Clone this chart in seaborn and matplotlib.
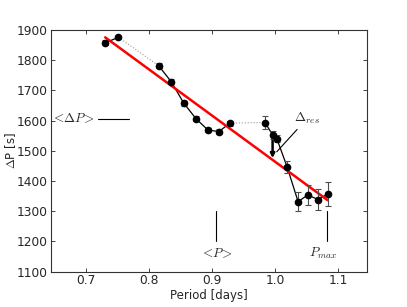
import numpy as np
import pandas as pd
import seaborn as sns
import matplotlib
matplotlib.use('Agg')
import matplotlib.pyplot as plt

# values
period = [0.731, 0.752, 0.8156, 0.8356, 0.8557, 0.875, 0.8937, 0.911, 0.9285,
          0.984, 0.996, 1.0026, 1.019, 1.0364, 1.0517, 1.068, 1.083]
delta_p = [1858, 1876, 1782, 1729, 1657, 1606, 1569, 1564, 1592,
           1594, 1553, 1541, 1447, 1332, 1354, 1339, 1357]
delta_p_err = [8, 6, 8, 8, 8, 8, 8, 8, 8,
               20, 12, 12, 19, 31, 33, 35, 40]
# which run each point belongs to (runs are joined by dotted lines)
segment = [0, 0, 1, 1, 1, 1, 1, 1, 1, 2, 2, 2, 2, 2, 2, 2, 2]

fit_period = [0.731, 1.083]
fit_dp = [1876, 1337]

mean_dp = 1607
mean_p = 0.907
p_max = 1.082
resid_top, resid_bottom = 1553, 1476

df = pd.DataFrame({'period': period, 'dp': delta_p, 'err': delta_p_err, 'seg': segment})
fit = pd.DataFrame({'period': fit_period, 'dp': fit_dp})

sns.set_style('ticks')
plt.rcParams['mathtext.fontset'] = 'cm'
plt.rcParams['font.family'] = ['DejaVu Sans']
plt.rcParams['xtick.direction'] = 'in'
plt.rcParams['ytick.direction'] = 'in'

fig, ax = plt.subplots(figsize=(4.07, 3.07), dpi=100)
fig.subplots_adjust(left=0.125, right=0.901, top=0.902, bottom=0.115)

# dotted gaps between runs
for s in range(df.seg.max()):
    a = df[df.seg == s].iloc[-1]
    b = df[df.seg == s + 1].iloc[0]
    gap = pd.DataFrame([a, b])
    sns.lineplot(data=gap, x='period', y='dp', ax=ax, color='0.6', lw=0.8,
                 linestyle=':', sort=False, estimator=None)

for s, g in df.groupby('seg'):
    sns.lineplot(data=g, x='period', y='dp', ax=ax, color='black', lw=0.9,
                 sort=False, estimator=None)

ax.errorbar(df.period, df.dp, yerr=df.err, fmt='o', color='black', ms=4.5,
            ecolor='0.3', elinewidth=0.8, capsize=2, capthick=0.8, zorder=4)

sns.lineplot(data=fit, x='period', y='dp', ax=ax, color='red', lw=1.8, zorder=3)

# residual marker
ax.annotate('', xy=(period[10], resid_bottom), xytext=(period[10], resid_top),
            arrowprops=dict(arrowstyle='-|>', color='black', lw=1.8,
                            mutation_scale=6, shrinkA=0, shrinkB=0))
ax.annotate(r'$\Delta_{res}$', xy=(1.0026, 1497), xytext=(1.030, 1607),
            fontsize=9.5, va='center', ha='left',
            arrowprops=dict(arrowstyle='-', color='black', lw=0.8, shrinkA=0, shrinkB=0))

# <dP> marker
ax.plot([0.719, 0.769], [mean_dp, mean_dp], color='black', lw=0.8)
ax.text(0.715, mean_dp, r'$<\!\Delta P\!>$', ha='right', va='center', fontsize=9.5)

# <P> and Pmax markers
ax.plot([mean_p, mean_p], [1200, 1302], color='black', lw=0.8)
ax.text(mean_p, 1162, r'$<\!P\!>$', ha='center', va='center', fontsize=9.5)
ax.plot([p_max, p_max], [1200, 1302], color='black', lw=0.8)
ax.text(p_max - 0.006, 1162, r'$P_{max}$', ha='center', va='center', fontsize=9.5)

ax.set_xlim(0.645, 1.145)
ax.set_ylim(1100, 1900)
ax.set_xticks([0.7, 0.8, 0.9, 1.0, 1.1])
ax.set_yticks(np.arange(1100, 1901, 100))
ax.tick_params(labelsize=8.8, top=True, right=True, length=3, width=0.6, pad=2)
for sp in ax.spines.values():
    sp.set_visible(True)
    sp.set_linewidth(0.8)
    sp.set_color('0.2')
ax.set_xlabel('Period [days]', fontsize=8.5, labelpad=1)
ax.set_ylabel(r'$\Delta$P [s]', fontsize=8.5)
ax.yaxis.set_label_coords(-0.105, 0.5)
if ax.get_legend():
    ax.get_legend().remove()

fig.savefig('out.png', dpi=100)
